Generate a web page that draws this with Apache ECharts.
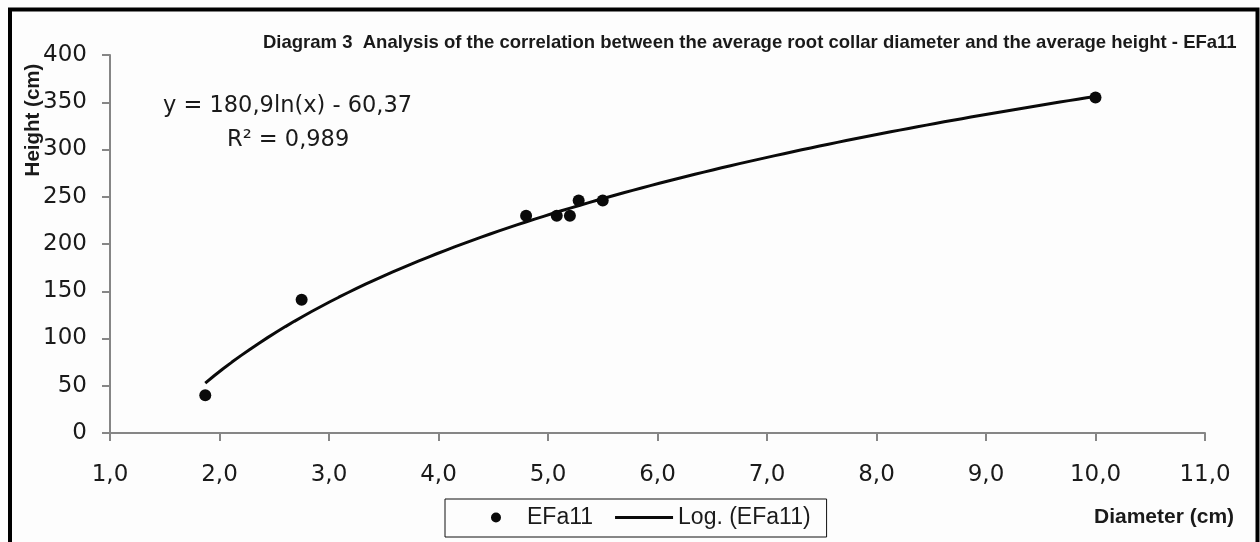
<!DOCTYPE html>
<html>
<head>
<meta charset="utf-8">
<script src="https://cdn.jsdelivr.net/npm/echarts@6/dist/echarts.min.js"></script>
<style>
  html, body { margin: 0; padding: 0; background: #fdfdfd; overflow: hidden; }
  #chart { width: 1260px; height: 542px; }
</style>
</head>
<body>
<div id="chart"></div>
<script>
// Average root collar diameter (cm) and average height (cm) per sample
const diameters = [1.87, 2.75, 4.8, 5.08, 5.2, 5.28, 5.5, 10.0];
const heights   = [40, 141, 230, 230, 230, 246, 246, 355];

// Logarithmic trend: y = a*ln(x) + b
const trendA = 180.9;
const trendB = -60.37;
const trendLabel = 'y = 180,9ln(x) - 60,37';
const r2Label = 'R\u00b2 = 0,989';

const xTicks = { min: 1, max: 11, interval: 1 };
const yTicks = { min: 0, max: 400, interval: 50 };

const titleText = 'Diagram 3  Analysis of the correlation between the average root collar diameter and the average height - EFa11';
const seriesName = 'EFa11';
const trendName = 'Log. (EFa11)';
const yName = 'Height (cm)';
const xName = 'Diameter (cm)';

const points = diameters.map((d, i) => [d, heights[i]]);

// trend curve across the observed diameter range
const xLo = Math.min(...diameters), xHi = Math.max(...diameters);
const trend = [];
for (let k = 0; k <= 100; k++) {
  const x = xLo + (xHi - xLo) * k / 100;
  trend.push([x, trendA * Math.log(x) + trendB]);
}

// legend icons in a 58x10 box
const dotIcon = 'path://M0,0h0.01M58,10h0.01M27,5a5,5 0 1,0 10,0a5,5 0 1,0 -10,0Z';
const lineIcon = 'path://M0,0h0.01M58,10h0.01M0,3.5H58V6.5H0Z';

const SANS = '"Liberation Sans", Arial, sans-serif';
const WIDE = '"DejaVu Sans", Verdana, sans-serif';
const INK = '#1a1a1a';
const AXIS = '#868686';

const chart = echarts.init(document.getElementById('chart'), null, { renderer: 'canvas' });
chart.setOption({
  backgroundColor: '#fdfdfd',
  animation: false,
  title: {
    text: titleText,
    left: 263, top: 33, padding: 0,
    textStyle: { fontFamily: SANS, fontSize: 18.5, fontWeight: 'bold', color: INK }
  },
  grid: { left: 110, right: 55, top: 55, bottom: 109, containLabel: false },
  xAxis: {
    type: 'value', min: xTicks.min, max: xTicks.max, interval: xTicks.interval,
    axisLine: { show: true, lineStyle: { color: AXIS, width: 2 } },
    axisTick: { show: true, length: 8, lineStyle: { color: AXIS, width: 2 } },
    splitLine: { show: false },
    axisLabel: {
      margin: 31, fontFamily: WIDE, fontSize: 23, color: INK,
      formatter: v => v.toFixed(1).replace('.', ',')
    }
  },
  yAxis: {
    type: 'value', min: yTicks.min, max: yTicks.max, interval: yTicks.interval,
    axisLine: { show: true, lineStyle: { color: AXIS, width: 2 } },
    axisTick: { show: true, length: 8, lineStyle: { color: AXIS, width: 2 } },
    splitLine: { show: false },
    axisLabel: { margin: 23, fontFamily: WIDE, fontSize: 23, color: INK, padding: [3, 0, 0, 0] }
  },
  legend: {
    left: 445, top: 499,
    padding: [7, 16, 8, 19],
    itemGap: 22,
    itemWidth: 58, itemHeight: 10,
    borderColor: '#111', borderWidth: 1,
    textStyle: { fontFamily: SANS, fontSize: 23, color: INK },
    data: [
      { name: seriesName, icon: dotIcon },
      { name: trendName, icon: lineIcon }
    ]
  },
  series: [
    {
      name: seriesName, type: 'scatter', data: points,
      symbol: 'circle', symbolSize: 12,
      itemStyle: { color: '#0a0a0a', opacity: 1 }, z: 3
    },
    {
      name: trendName, type: 'line', data: trend,
      symbol: 'none', smooth: false,
      itemStyle: { color: '#0a0a0a' },
      lineStyle: { color: '#0a0a0a', width: 3 }, z: 2
    }
  ],
  graphic: [
    {
      type: 'text', x: 163, y: 106.5,
      style: { text: trendLabel, fontFamily: WIDE, fontSize: 22.5, fill: INK, verticalAlign: 'middle' }
    },
    {
      type: 'text', x: 227, y: 140,
      style: { text: r2Label, fontFamily: WIDE, fontSize: 22.5, fill: INK, verticalAlign: 'middle' }
    },
    {
      type: 'text', x: 33, y: 120, rotation: Math.PI / 2,
      style: { text: yName, fontFamily: SANS, fontSize: 20.5, fontWeight: 'bold', fill: INK,
               align: 'center', verticalAlign: 'middle' }
    },
    {
      type: 'text', x: 1094, y: 517,
      style: { text: xName, fontFamily: SANS, fontSize: 21, fontWeight: 'bold', fill: INK, verticalAlign: 'middle' }
    },
    {
      type: 'polyline', silent: true,
      shape: { points: [[10, 542], [10, 9.5], [1257.5, 9.5], [1257.5, 542]] },
      style: { stroke: '#000', lineWidth: 4, fill: null }
    }
  ]
});
</script>
</body>
</html>
